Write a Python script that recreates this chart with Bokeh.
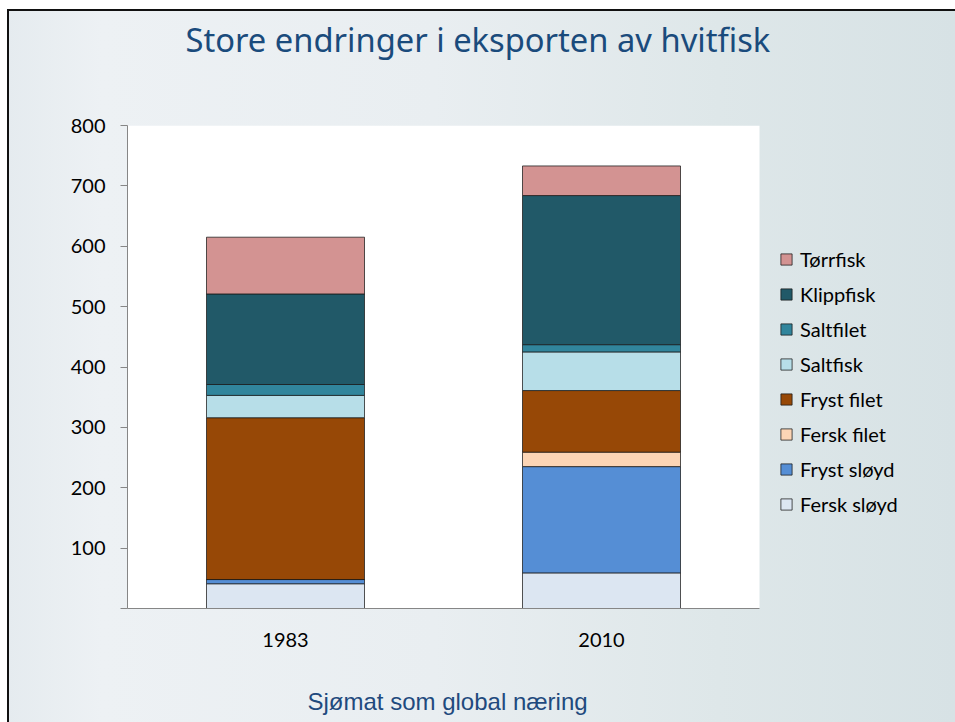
from bokeh.plotting import figure
from bokeh.models import (ColumnDataSource, Legend, LegendItem, Title,
                          FixedTicker, Range1d, BoxAnnotation)
from bokeh.embed import file_html
from bokeh.resources import INLINE

# ---- data ----
years = ["1983", "2010"]
fersk_sloyd = [41, 59]
fryst_sloyd = [7, 176]
fersk_filet = [0, 24]
fryst_filet = [268, 102]
saltfisk = [37, 64]
saltfilet = [18, 12]
klippfisk = [150, 247]
torrfisk = [94, 49]

series_names = ["Fersk sløyd", "Fryst sløyd", "Fersk filet", "Fryst filet",
                "Saltfisk", "Saltfilet", "Klippfisk", "Tørrfisk"]
series_values = [fersk_sloyd, fryst_sloyd, fersk_filet, fryst_filet,
                 saltfisk, saltfilet, klippfisk, torrfisk]
colors = ["#DCE6F2", "#558ED5", "#FCD5B5", "#974806",
          "#B7DEE8", "#31859C", "#215968", "#D39392"]
y_ticks = [0, 100, 200, 300, 400, 500, 600, 700, 800]

title_text = "Store endringer i eksporten av hvitfisk"
footer_text = "Sjømat som global næring"

# category slots: each year occupies one unit on the x scale
x_pos = [i + 0.5 for i in range(len(years))]
data = {"x": x_pos, "year": years}
for name, vals in zip(series_names, series_values):
    data[name] = vals
source = ColumnDataSource(data)

# layout constants (pixels)
W, H = 955, 722
LEFT, TOP, BOTTOM = 127, 125, 114
PLOT_W = 632                     # white plotting area width
unit_px = PLOT_W / len(years)    # width of one category slot
x_end = (W - LEFT) / unit_px     # frame extends under the legend

p = figure(x_range=Range1d(0, x_end), y_range=Range1d(0, 800), title=None,
           width=W, height=H, output_backend="svg", toolbar_location=None,
           min_border_left=LEFT, min_border_right=0,
           min_border_top=TOP, min_border_bottom=BOTTOM)

# white plotting area behind the bars
p.add_layout(BoxAnnotation(left=0, right=len(years), fill_color="white",
                           fill_alpha=1, line_alpha=0, level="underlay"))

renderers = p.vbar_stack(series_names, x="x", width=0.5, source=source,
                         fill_color=colors, line_color="#1a1a1a",
                         line_alpha=0.75, line_width=1)

# background / frame
p.background_fill_alpha = 0
p.border_fill_color = None
p.outline_line_color = None
p.styles = {
    "background": ("linear-gradient(#111,#111) 7px 9px / 2px 713px no-repeat, "
                   "linear-gradient(#111,#111) 7px 9px / 948px 2px no-repeat, "
                   "linear-gradient(to right, #e5ebef 0%, #edf1f4 10%, #e9eef1 45%, "
                   "#dee7e9 75%, #d7e2e5 100%) 7px 9px / 948px 713px no-repeat, #ffffff"),
}
p.xgrid.grid_line_color = None
p.ygrid.grid_line_color = None

# y axis
p.yaxis.ticker = FixedTicker(ticks=y_ticks)
p.yaxis.major_label_overrides = {0: ""}
p.yaxis.axis_line_color = "#868686"
p.yaxis.major_tick_line_color = "#868686"
p.yaxis.major_tick_out = 7
p.yaxis.major_tick_in = 0
p.yaxis.minor_tick_line_color = None
p.yaxis.major_label_standoff = 15
p.yaxis.major_label_text_font = "Lato"
p.yaxis.major_label_text_font_size = "20px"
p.yaxis.major_label_text_color = "black"

# x axis: category labels, line only under the plotting area
p.xaxis.ticker = FixedTicker(ticks=x_pos)
p.xaxis.major_label_overrides = {x: y for x, y in zip(x_pos, years)}
p.xaxis.bounds = (0, len(years))
p.xaxis.axis_line_color = "#868686"
p.xaxis.major_tick_line_color = None
p.xaxis.minor_tick_line_color = None
p.xaxis.major_label_standoff = 18
p.xaxis.major_label_text_font = "Lato"
p.xaxis.major_label_text_font_size = "20px"
p.xaxis.major_label_text_color = "black"

# legend (top of stack first)
items = [LegendItem(label=n, renderers=[r])
         for n, r in reversed(list(zip(series_names, renderers)))]
legend = Legend(items=items, location=(652, 92), padding=0, margin=0,
                glyph_width=14, glyph_height=14, label_height=20, spacing=11,
                label_standoff=7, border_line_color=None,
                background_fill_alpha=0,
                label_text_font="Lato", label_text_font_size="20px",
                label_text_color="black")
p.add_layout(legend, "center")

# title: a thin spacer next to the frame, then the title above it
p.add_layout(Title(text=" ", text_font_size="1px", standoff=55), "above")
p.add_layout(Title(text=title_text, align="left", offset=58,
                   vertical_align="middle", text_font="Noto Sans",
                   text_font_size="32.7px", text_font_style="normal",
                   text_color="#1A4B7C", standoff=10), "above")

# footer: a thin spacer below the axis, then the footer text
p.add_layout(Title(text=" ", text_font_size="1px", standoff=31), "below")
p.add_layout(Title(text=footer_text, align="left", offset=180,
                   vertical_align="middle", text_font="Liberation Sans",
                   text_font_size="24px", text_font_style="normal",
                   text_color="#1F4A7E", standoff=6), "below")

open("out.html", "w").write(file_html(p, INLINE))
